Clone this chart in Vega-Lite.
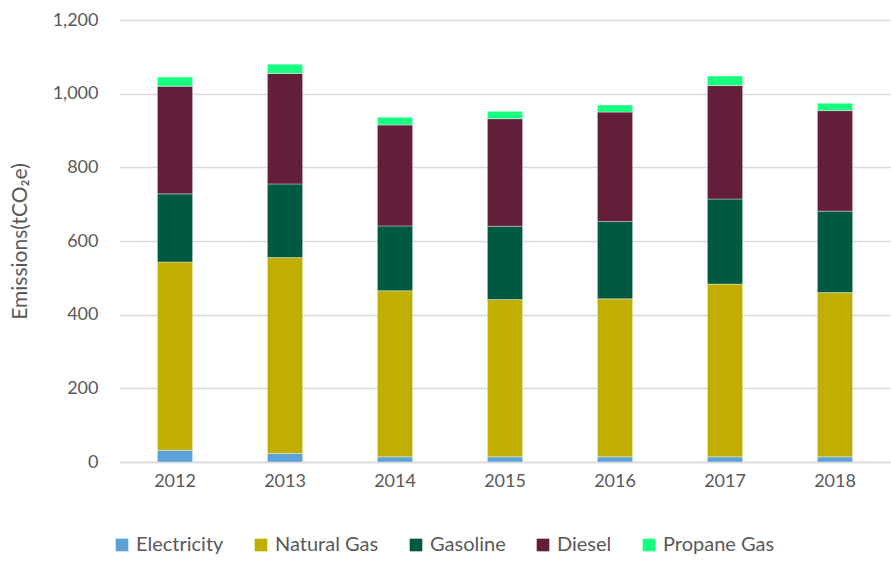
{
  "$schema": "https://vega.github.io/schema/vega-lite/v6.json",
  "width": 770,
  "height": 442,
  "autosize": {"type": "none"},
  "padding": {"left": 120, "top": 20, "right": 1, "bottom": 101},
  "background": "white",
  "data": {
    "values": [
      {"year": "2012", "source": "Electricity", "value": 32},
      {"year": "2012", "source": "Natural Gas", "value": 511},
      {"year": "2012", "source": "Gasoline", "value": 185},
      {"year": "2012", "source": "Diesel", "value": 292},
      {"year": "2012", "source": "Propane Gas", "value": 25},
      {"year": "2013", "source": "Electricity", "value": 23},
      {"year": "2013", "source": "Natural Gas", "value": 532},
      {"year": "2013", "source": "Gasoline", "value": 200},
      {"year": "2013", "source": "Diesel", "value": 300},
      {"year": "2013", "source": "Propane Gas", "value": 25},
      {"year": "2014", "source": "Electricity", "value": 14},
      {"year": "2014", "source": "Natural Gas", "value": 451},
      {"year": "2014", "source": "Gasoline", "value": 176},
      {"year": "2014", "source": "Diesel", "value": 274},
      {"year": "2014", "source": "Propane Gas", "value": 21},
      {"year": "2015", "source": "Electricity", "value": 14},
      {"year": "2015", "source": "Natural Gas", "value": 427},
      {"year": "2015", "source": "Gasoline", "value": 199},
      {"year": "2015", "source": "Diesel", "value": 292},
      {"year": "2015", "source": "Propane Gas", "value": 20},
      {"year": "2016", "source": "Electricity", "value": 14},
      {"year": "2016", "source": "Natural Gas", "value": 429},
      {"year": "2016", "source": "Gasoline", "value": 210},
      {"year": "2016", "source": "Diesel", "value": 297},
      {"year": "2016", "source": "Propane Gas", "value": 19},
      {"year": "2017", "source": "Electricity", "value": 14},
      {"year": "2017", "source": "Natural Gas", "value": 469},
      {"year": "2017", "source": "Gasoline", "value": 231},
      {"year": "2017", "source": "Diesel", "value": 308},
      {"year": "2017", "source": "Propane Gas", "value": 26},
      {"year": "2018", "source": "Electricity", "value": 14},
      {"year": "2018", "source": "Natural Gas", "value": 446},
      {"year": "2018", "source": "Gasoline", "value": 221},
      {"year": "2018", "source": "Diesel", "value": 273},
      {"year": "2018", "source": "Propane Gas", "value": 20}
    ]
  },
  "transform": [
    {"calculate": "indexof(['Electricity','Natural Gas','Gasoline','Diesel','Propane Gas'], datum.source)", "as": "stackOrder"}
  ],
  "mark": {"type": "bar", "stroke": "white", "strokeWidth": 0.6, "strokeOpacity": 0.6},
  "encoding": {
    "x": {
      "field": "year",
      "type": "nominal",
      "scale": {"paddingInner": 0.68, "paddingOuter": 0.34},
      "axis": {
        "title": null,
        "labelAngle": 0,
        "labelFont": "Lato",
        "labelFontSize": 18,
        "labelColor": "#595959",
        "labelPadding": 10,
        "ticks": false,
        "domainColor": "#D9D9D9",
        "domainWidth": 1.5
      }
    },
    "y": {
      "field": "value",
      "type": "quantitative",
      "stack": "zero",
      "scale": {"domain": [0, 1200], "nice": false},
      "axis": {
        "title": "Emissions(tCO₂e)",
        "titleFont": "Lato",
        "titleFontSize": 21,
        "titleFontWeight": "normal",
        "titleColor": "#595959",
        "titlePadding": 22,
        "values": [0, 200, 400, 600, 800, 1000, 1200],
        "format": ",d",
        "labelFont": "Lato",
        "labelFontSize": 18,
        "labelColor": "#595959",
        "labelPadding": 22,
        "ticks": false,
        "domain": false,
        "gridColor": "#D9D9D9",
        "gridWidth": 1.3
      }
    },
    "order": {"field": "stackOrder", "type": "quantitative", "sort": "ascending"},
    "color": {
      "field": "source",
      "type": "nominal",
      "sort": ["Electricity", "Natural Gas", "Gasoline", "Diesel", "Propane Gas"],
      "scale": {
        "domain": ["Electricity", "Natural Gas", "Gasoline", "Diesel", "Propane Gas"],
        "range": ["#5BA3D6", "#C0AF00", "#005A41", "#631E3A", "#17FF7E"]
      },
      "legend": {
        "title": null,
        "orient": "none",
        "legendX": -8,
        "legendY": 515,
        "direction": "horizontal",
        "symbolType": "square",
        "symbolSize": 160,
        "symbolStrokeWidth": 0,
        "labelFont": "Lato",
        "labelFontSize": 20,
        "labelColor": "#595959",
        "columnPadding": 27,
        "labelOffset": 4
      }
    }
  },
  "config": {"view": {"stroke": null}}
}
